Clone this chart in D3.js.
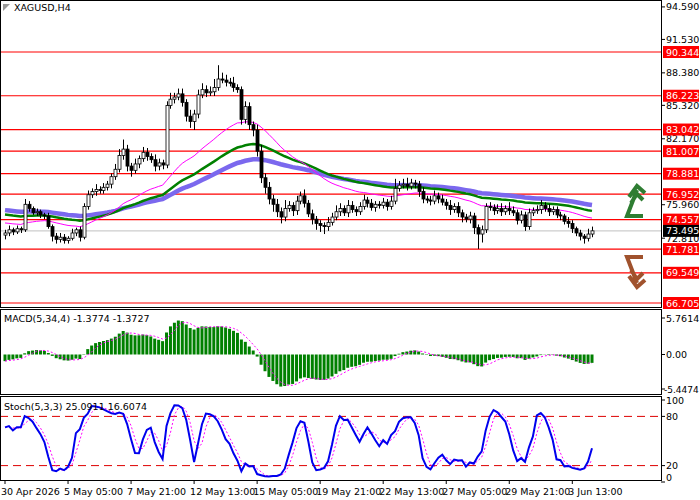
<!DOCTYPE html>
<html><head><meta charset="utf-8">
<script src="https://cdn.jsdelivr.net/npm/d3@7/dist/d3.min.js"></script>
<style>body{margin:0;background:#fff}text{font-family:"DejaVu Sans",sans-serif;font-size:9.5px}</style>
</head><body><svg id="c" width="700" height="500"></svg>
<script>
const closes=[73.3,73.6,73.4,73.7,73.6, 76.0,75.6,75.2,75.3,75.0, 74.9,73.9,73.0,72.7,72.9, 72.6,72.8,73.3,73.6,72.9,
75.8,76.9,77.2,77.4,77.3, 77.6,77.9,78.6,79.3,80.6, 81.2,79.6,79.2,79.8,80.3, 80.9,80.5,80.2,79.6,79.9,
79.7,85.3,85.9,86.1,86.4, 85.6,84.3,83.8,84.5,86.3, 86.8,86.5,86.6,87.0,87.8, 87.7,87.5,87.4,87.0,86.8,
84.0,85.2,83.5,83.0,81.0, 78.5,77.6,76.5,76.0,75.3, 74.8,75.6,75.9,75.4,76.3, 76.8,76.1,75.1,74.6,74.2,
74.0,73.9,74.3,74.8,75.3, 75.6,75.2,75.9,75.5,75.3, 75.8,76.4,76.1,75.7,76.0, 75.9,76.2,75.8,76.3,77.5,
77.8,77.9,77.7,78.0,77.9, 77.2,76.5,76.4,76.3,76.8, 76.5,76.2,75.9,75.5,75.8, 75.2,74.8,74.6,74.9,73.8,
73.2,73.6,75.8,75.7,75.4, 75.6,75.3,75.6,75.4,75.2, 74.5,75.0,73.9,75.2,75.4, 75.5,75.9,75.6,75.3,75.5,
75.0,74.9,74.4,74.2,73.7, 73.3,73.0,72.8,73.2,73.5];
const firstOpen=73.1;
const wickUp=[0.3,0.4,0.2,0.3,0.2, 0.5,0.3,0.2,0.3,0.2, 0.2,0.3,0.2,0.3,0.4, 0.3,0.2,0.4,0.2,0.3, 0.3,0.4,0.3,0.5,0.3, 0.4,0.3,0.3,0.5,0.6,
0.9,0.4,0.3,0.5,0.3, 0.5,0.4,0.3,0.5,0.4, 0.3,0.4,0.6,0.4,0.5, 0.5,0.3,0.6,0.4,0.5, 0.6,0.4,0.5,0.8,1.3, 0.6,0.5,0.4,0.6,0.3,
0.3,0.5,0.4,0.3,0.5, 0.6,0.4,0.5,0.4,0.5, 0.4,0.8,0.4,0.3,0.5, 0.4,0.6,0.3,0.4,0.3, 0.3,0.3,0.5,0.4,0.6, 0.5,0.3,0.5,0.4,0.3,
0.4,0.5,0.3,0.4,0.3, 0.3,0.4,0.3,0.5,0.9, 0.4,0.5,0.6,0.4,0.3, 0.3,0.4,0.3,0.4,0.5, 0.3,0.4,0.3,0.5,0.3, 0.4,0.3,0.3,0.4,0.3,
0.3,0.4,0.3,0.4,0.3, 0.4,0.5,0.3,0.6,0.4, 0.3,0.4,0.3,0.4,0.3, 0.4,0.5,0.3,0.4,0.3, 0.3,0.3,0.2,0.4,0.3, 0.2,0.3,0.2,0.5,0.4];
const wickDown=[0.4,0.3,0.3,0.2,0.3, 0.2,0.3,0.2,0.3,0.3, 0.3,0.2,0.5,0.4,0.3, 0.3,0.3,0.2,0.3,0.4, 0.2,0.3,0.3,0.4,0.3, 0.3,0.3,0.4,0.3,0.3,
0.4,0.5,0.6,0.3,0.4, 0.3,0.4,0.3,0.5,0.4, 0.4,0.3,0.3,0.4,0.3, 0.4,0.5,0.6,0.8,0.4, 0.3,0.4,0.3,0.4,0.3, 0.3,0.4,0.3,0.4,0.3,
0.5,0.4,0.5,0.6,0.5, 0.5,0.6,0.5,0.7,0.5, 0.6,0.4,0.3,0.5,0.4, 0.3,0.4,0.3,0.5,0.6, 0.6,0.7,0.4,0.3,0.3, 0.4,0.3,0.4,0.3,0.4,
0.3,0.3,0.4,0.3,0.4, 0.3,0.3,0.4,0.3,0.3, 0.3,0.3,0.4,0.3,0.4, 0.5,0.4,0.3,0.4,0.3, 0.4,0.3,0.4,0.5,0.3, 0.4,0.5,0.3,0.4,0.6,
1.4,0.8,0.3,0.3,0.4, 0.3,0.4,0.3,0.4,0.3, 0.4,0.3,0.4,0.3,0.3, 0.3,0.4,0.3,0.4,0.3, 0.3,0.4,0.3,0.4,0.4, 0.3,0.4,0.5,0.3,0.3];
const maSeed=[74.3,75.1,75.5];
const maPeriods=[34,60,90];
const maColors=["#ff00ff","#008000","#7b68ee"];
const maWidths=[1,2.5,4.5];
const levels=[90.344,86.223,83.042,81.007,78.881,76.952,74.557,71.781,69.549,66.705];
const priceTicks=[94.590,91.530,88.380,85.320,82.170,75.960,72.810];
const currentPrice=73.495;
const timeLabels=["30 Apr 2026","5 May 05:00","7 May 21:00","12 May 13:00","15 May 05:00","19 May 21:00","22 May 13:00","27 May 05:00","29 May 21:00","3 Jun 13:00"];
const macdTicks=[5.7614,0,-5.4474];
const stochTicks=[100,80,20,0];

const svg=d3.select("#c");
const N=closes.length, AX=661;
const opens=closes.map((c,i)=>i?closes[i-1]:firstOpen);
const highs=closes.map((c,i)=>Math.max(c,opens[i])+wickUp[i]);
const lows=closes.map((c,i)=>Math.min(c,opens[i])-wickDown[i]);
const x=d3.scaleLinear().domain([0,N-1]).range([5,592]);
const y=d3.scaleLinear().domain([90.344,66.705]).range([52,303]);
const ym=d3.scaleLinear().domain([5.7614,-5.4474]).range([318,389]);
const ys=d3.scaleLinear().domain([100,0]).range([400,482]);

function ema(arr,p,seed){const k=2/(p+1);let e=seed;return arr.map(v=>e=e+k*(v-e));}
const clipP=(id,y0,y1)=>svg.append("clipPath").attr("id",id).append("rect").attr("x",1).attr("y",y0).attr("width",AX-1).attr("height",y1-y0);
clipP("cm",1,306);clipP("cd",310,393);clipP("cs",397,479);
[[0,307],[309,394],[396,480]].forEach(([a,b])=>svg.append("rect").attr("x",0.5).attr("y",a+0.5).attr("width",AX).attr("height",b-a).attr("fill","none").attr("stroke","#000"));
const gm=svg.append("g").attr("clip-path","url(#cm)");
levels.forEach(v=>gm.append("line").attr("x1",0).attr("x2",AX).attr("y1",y(v)).attr("y2",y(v)).attr("stroke","#f00").attr("stroke-width",1.2));
gm.append("line").attr("x1",0).attr("x2",AX).attr("y1",y(currentPrice)).attr("y2",y(currentPrice)).attr("stroke","#c0c0c0");
[2,1,0].forEach(j=>{const m=ema(closes,maPeriods[j],maSeed[j]);
 gm.append("path").attr("d",d3.line().x((d,i)=>x(i)).y(d=>y(d))(m)).attr("fill","none").attr("stroke",maColors[j]).attr("stroke-width",maWidths[j]);});
closes.forEach((c,i)=>{const o=opens[i],xi=Math.round(x(i))+0.5;
 gm.append("line").attr("x1",xi).attr("x2",xi).attr("y1",y(highs[i])).attr("y2",y(lows[i])).attr("stroke","#000");
 const t=y(Math.max(o,c)),b=y(Math.min(o,c));
 gm.append("rect").attr("x",xi-1.5).attr("y",t).attr("width",3).attr("height",Math.max(1,b-t)).attr("fill",c>=o?"#fff":"#000").attr("stroke","#000").attr("stroke-width",0.8);});
priceTicks.forEach(v=>{svg.append("line").attr("x1",AX).attr("x2",AX+4).attr("y1",y(v)).attr("y2",y(v)).attr("stroke","#000");
 svg.append("text").attr("x",666).attr("y",y(v)+3.5).text(v.toFixed(3));});
levels.forEach(v=>{svg.append("rect").attr("x",663).attr("y",y(v)-6).attr("width",36).attr("height",12).attr("fill","#f00");
 svg.append("text").attr("x",666).attr("y",y(v)+3.5).attr("fill","#fff").text(v.toFixed(3));});
svg.append("rect").attr("x",663).attr("y",y(currentPrice)-6).attr("width",36).attr("height",12).attr("fill","#000");
svg.append("text").attr("x",666).attr("y",y(currentPrice)+3.5).attr("fill","#fff").text(currentPrice.toFixed(3));
svg.append("text").attr("x",14).attr("y",11).text("XAGUSD,H4");
svg.append("path").attr("d","M3,4 L10,4 L3,11 Z").attr("fill","#999");
svg.append("path").attr("d","M643,216 L627,216 L637,190 M629,197 L637,186 L645,193 M631,203 L637,194 L643,200").attr("fill","none").attr("stroke","#2e7d32").attr("stroke-width",4);
svg.append("path").attr("d","M643,257 L627,257 L637,283 M629,276 L637,287 L645,280 M631,270 L637,279 L643,273").attr("fill","none").attr("stroke","#a0522d").attr("stroke-width",4);
const ef=ema(closes,5,closes[0]-0.3),es=ema(closes,34,closes[0]+0.9);
const macd=ef.map((v,i)=>v-es[i]);const sig=d3.range(N).map(i=>d3.mean(macd.slice(Math.max(0,i-3),i+1)));
const gd=svg.append("g").attr("clip-path","url(#cd)");
macd.forEach((v,i)=>gd.append("rect").attr("x",x(i)-1.5).attr("y",Math.min(ym(v),ym(0))).attr("width",3).attr("height",Math.abs(ym(v)-ym(0))).attr("fill","#008000"));
gd.append("path").attr("d",d3.line().x((d,i)=>x(i)).y(d=>ym(d))(sig)).attr("fill","none").attr("stroke","#ff00ff").attr("stroke-dasharray","2,2");
svg.append("text").attr("x",4).attr("y",322).text("MACD(5,34,4) -1.3774 -1.3727");
macdTicks.forEach(v=>{svg.append("line").attr("x1",AX).attr("x2",AX+4).attr("y1",ym(v)).attr("y2",ym(v)).attr("stroke","#000");
 svg.append("text").attr("x",v<0?664:666).attr("y",ym(v)+3.5).style("font-size",v<0?"9px":null).text(v===0?"0.00":v.toFixed(4));});
const raw=closes.map((c,i)=>{const a=Math.max(0,i-4);const hh=d3.max(highs.slice(a,i+1)),ll=d3.min(lows.slice(a,i+1));return [c-ll,hh-ll];});
const K=raw.map((r,i)=>{const s=raw.slice(Math.max(0,i-2),i+1);return 100*d3.sum(s,d=>d[0])/d3.sum(s,d=>d[1]);});
const D=K.map((k,i)=>d3.mean(K.slice(Math.max(0,i-2),i+1)));
const gs=svg.append("g").attr("clip-path","url(#cs)");
[80,20].forEach(v=>gs.append("line").attr("x1",0).attr("x2",AX).attr("y1",ys(v)).attr("y2",ys(v)).attr("stroke","#d00").attr("stroke-dasharray","8,5"));
gs.append("path").attr("d",d3.line().x((d,i)=>x(i)).y(d=>ys(d))(D)).attr("fill","none").attr("stroke","#ff00ff").attr("stroke-dasharray","2,2");
gs.append("path").attr("d",d3.line().x((d,i)=>x(i)).y(d=>ys(d))(K)).attr("fill","none").attr("stroke","#0000ee").attr("stroke-width",2);
svg.append("text").attr("x",4).attr("y",410).text("Stoch(5,3,3) 25.0911 16.6074");
stochTicks.forEach(v=>{svg.append("line").attr("x1",AX).attr("x2",AX+4).attr("y1",ys(v)).attr("y2",ys(v)).attr("stroke","#000");
 svg.append("text").attr("x",666).attr("y",Math.min(ys(v)+3.5,481)).text(v);});
timeLabels.forEach((t,k)=>{const xi=x(k*16);svg.append("line").attr("x1",xi).attr("x2",xi).attr("y1",480).attr("y2",484).attr("stroke","#000");
 svg.append("text").attr("x",xi-4).attr("y",495).text(t);});
</script></body></html>
